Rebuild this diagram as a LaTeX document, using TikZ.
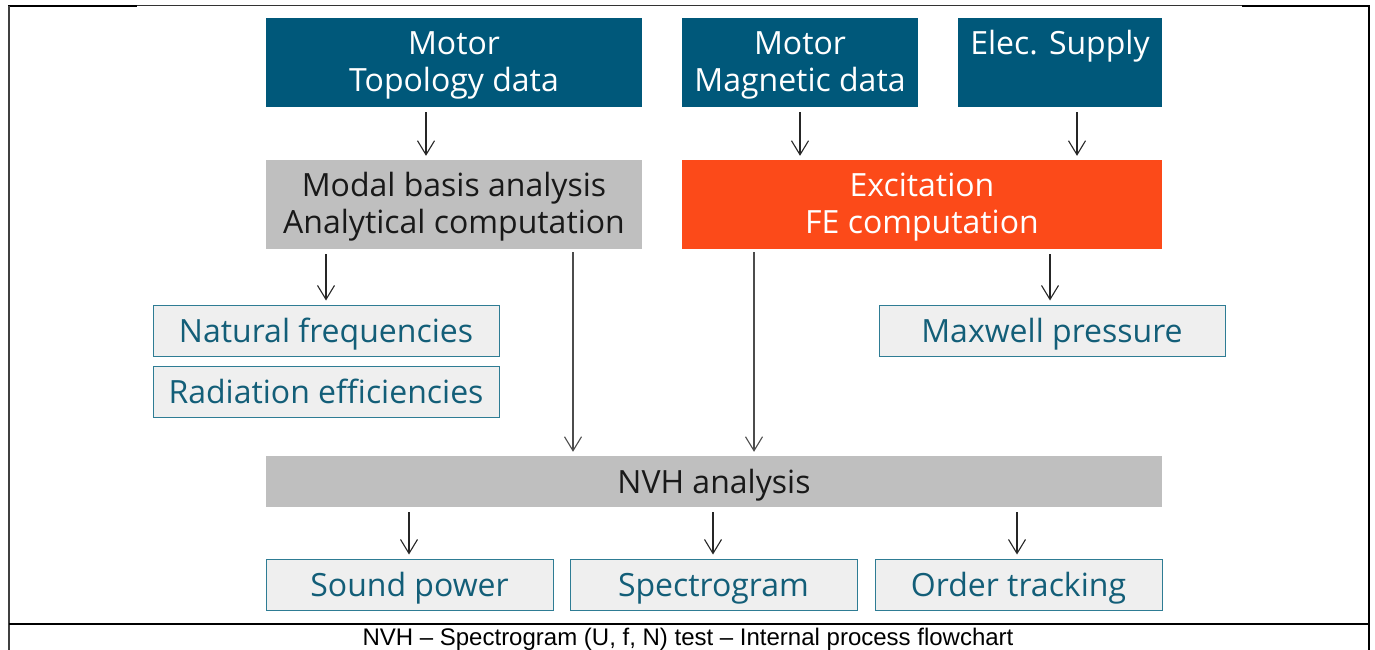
\documentclass[tikz,border=0pt]{standalone}
\usepackage{fontspec}
\setmainfont{Open Sans}
\newfontfamily\capfont{Liberation Sans}
\usetikzlibrary{arrows.meta}
\definecolor{teal}{HTML}{00587A}
\definecolor{orng}{HTML}{FC4A19}
\definecolor{gbox}{HTML}{BFBFBF}
\definecolor{lbox}{HTML}{EFEFEF}
\definecolor{lbord}{HTML}{2E7C94}
\definecolor{ltext}{HTML}{135E78}
\newcommand\dnone[1]{\raisebox{-3.5pt}[24pt][8pt]{#1}}
\newcommand\dntwo[2]{\raisebox{-3pt}[\height][\depth]{\begin{tabular}{@{}c@{}}#1\\#2\end{tabular}}}
\tikzset{
  big/.style={minimum height=89pt, inner sep=0pt, align=center, font=\fontsize{32}{37}\selectfont},
  darkbox/.style={big, fill=teal, text=white},
  graybox/.style={big, fill=gbox, text=black!90},
  orangebox/.style={big, fill=orng, text=white},
  resbox/.style={minimum height=51pt, inner sep=0pt, fill=lbox, draw=lbord, line width=1pt, text=ltext, font=\fontsize{32}{36}\selectfont},
  flat/.style={minimum height=51pt, inner sep=0pt, fill=gbox, text=black!90, font=\fontsize{32}{36}\selectfont},
  arr/.style={draw=black!85, line width=1.1pt, -{Straight Barb[length=14pt,width=17pt,line width=1.1pt]}, shorten <=5pt, shorten >=4pt},
  longarr/.style={arr, draw=black!70, shorten <=3pt},
  frame/.style={line width=2pt, black}
}
\begin{document}
\begin{tikzpicture}[x=1pt,y=-1pt]
\useasboundingbox (0,0) rectangle (1375,650);
% frame
\draw[frame] (8,6) -- (137,6);
\draw[line width=1pt, black!80] (137,5.5) -- (1242,5.5);
\draw[frame] (1242,6.5) -- (1370,6.5);
\draw[line width=1.6pt, black!75] (9,6) -- (9,650);
\draw[frame] (1369,6) -- (1369,650);
\draw[frame] (9,623.5) -- (1369,623.5);
% nodes
\node[darkbox, minimum width=376pt] (topo) at (454,62.5) {\dntwo{Motor}{Topology data}};
\node[darkbox, minimum width=236pt] (magn) at (800,62.5) {\dntwo{Motor}{Magnetic data}};
\node[darkbox, minimum width=204pt] (elec) at (1060,62.5) {\dntwo{Elec. Supply}{\mbox{}}};
\node[graybox, minimum width=376pt] (modal) at (454,204.5) {\dntwo{Modal basis analysis}{Analytical computation}};
\node[orangebox, minimum width=480pt] (excit) at (922,204.5) {\dntwo{Excitation}{FE computation}};
\node[resbox, minimum width=346pt] (natf) at (326,330.5) {\dnone{Natural frequencies}};
\node[resbox, minimum width=346pt] (radf) at (326,391.5) {\dnone{Radiation efficiencies}};
\node[resbox, minimum width=346pt] (maxw) at (1052,330.5) {\dnone{Maxwell pressure}};
\node[flat, minimum width=896pt] (nvh) at (714,481.5) {\dnone{NVH analysis}};
\node[resbox, minimum width=287pt] (sound) at (409.5,584.5) {\dnone{Sound power}};
\node[resbox, minimum width=287pt] (spec) at (713.5,584.5) {\dnone{Spectrogram}};
\node[resbox, minimum width=287pt] (order) at (1018.5,584.5) {\dnone{Order tracking}};
\node[font=\capfont\fontsize{24}{26}\selectfont, inner sep=0pt] (cap) at (688,639.5) {NVH – Spectrogram (U, f, N) test – Internal process flowchart};
% arrow x positions
\coordinate (a1) at (426,0);
\coordinate (a2) at (800,0);
\coordinate (a3) at (1077,0);
\coordinate (a4) at (326,0);
\coordinate (a5) at (573,0);
\coordinate (a6) at (754,0);
\coordinate (a7) at (1050,0);
\coordinate (a8) at (409,0);
\coordinate (a9) at (713,0);
\coordinate (a10) at (1017,0);
% arrows
\draw[arr] (topo.south -| a1) -- (modal.north -| a1);
\draw[arr] (magn.south -| a2) -- (excit.north -| a2);
\draw[arr] (elec.south -| a3) -- (excit.north -| a3);
\draw[arr] (modal.south -| a4) -- (natf.north -| a4);
\draw[longarr] (modal.south -| a5) -- (nvh.north -| a5);
\draw[longarr] (excit.south -| a6) -- (nvh.north -| a6);
\draw[arr] (excit.south -| a7) -- (maxw.north -| a7);
\draw[arr] (nvh.south -| a8) -- (sound.north -| a8);
\draw[arr] (nvh.south -| a9) -- (spec.north -| a9);
\draw[arr] (nvh.south -| a10) -- (order.north -| a10);
\end{tikzpicture}
\end{document}
